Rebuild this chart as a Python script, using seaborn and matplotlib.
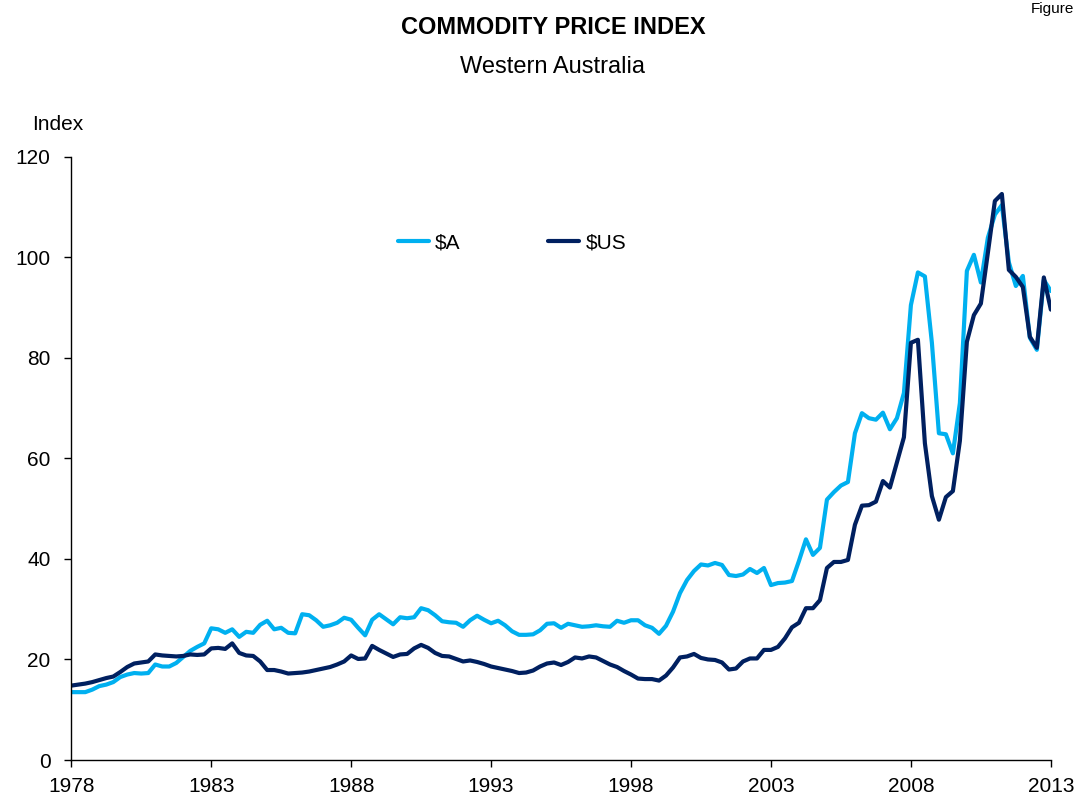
import matplotlib
matplotlib.use("Agg")
import matplotlib.pyplot as plt
import numpy as np
import pandas as pd
import seaborn as sns

# quarterly, 1978 Q1 .. 2013 Q1
start_year = 1978
aud_index = [
    13.5, 13.5, 13.5, 14.0, 14.7, 15.0, 15.5, 16.5, 17.0, 17.3,
    17.2, 17.3, 19.0, 18.6, 18.6, 19.3, 20.5, 21.7, 22.5, 23.2,
    26.2, 26.0, 25.3, 26.0, 24.5, 25.5, 25.3, 26.9, 27.7, 26.0,
    26.3, 25.3, 25.2, 29.0, 28.8, 27.8, 26.5, 26.8, 27.3, 28.3,
    27.9, 26.3, 24.8, 27.9, 29.0, 28.0, 27.0, 28.4, 28.2, 28.4,
    30.2, 29.8, 28.8, 27.6, 27.4, 27.3, 26.5, 27.8, 28.7, 27.9,
    27.2, 27.7, 26.8, 25.6, 24.9, 24.9, 25.0, 25.8, 27.1, 27.2,
    26.3, 27.1, 26.8, 26.5, 26.6, 26.8, 26.6, 26.5, 27.7, 27.3,
    27.8, 27.8, 26.8, 26.3, 25.1, 26.7, 29.5, 33.2, 35.8, 37.6,
    38.9, 38.7, 39.2, 38.8, 36.8, 36.6, 36.9, 38.0, 37.2, 38.2,
    34.8, 35.2, 35.3, 35.6, 39.6, 43.9, 40.8, 42.2, 51.8, 53.3,
    54.6, 55.3, 65.0, 69.0, 68.0, 67.7, 69.1, 65.8, 68.0, 73.0,
    90.5, 97.0, 96.2, 83.0, 65.0, 64.8, 61.0, 71.0, 97.3, 100.5,
    95.0, 103.9, 108.5, 110.4, 99.0, 94.3, 96.3, 84.0, 81.6, 95.5,
    93.3,
]
usd_index = [
    14.8, 15.0, 15.2, 15.5, 15.9, 16.3, 16.6, 17.5, 18.5, 19.2,
    19.4, 19.6, 21.0, 20.8, 20.7, 20.6, 20.7, 21.0, 20.9, 21.0,
    22.2, 22.3, 22.1, 23.2, 21.3, 20.8, 20.7, 19.6, 17.9, 17.9,
    17.6, 17.2, 17.3, 17.4, 17.6, 17.9, 18.2, 18.5, 19.0, 19.6,
    20.8, 20.1, 20.2, 22.7, 21.9, 21.2, 20.5, 21.0, 21.1, 22.2,
    22.9, 22.3, 21.3, 20.7, 20.6, 20.1, 19.6, 19.8, 19.5, 19.1,
    18.6, 18.3, 18.0, 17.7, 17.3, 17.4, 17.8, 18.6, 19.2, 19.4,
    18.9, 19.5, 20.4, 20.2, 20.6, 20.4, 19.7, 19.0, 18.5, 17.7,
    17.0, 16.2, 16.1, 16.1, 15.8, 16.8, 18.4, 20.4, 20.6, 21.1,
    20.3, 20.0, 19.9, 19.4, 18.0, 18.2, 19.6, 20.2, 20.2, 21.9,
    21.9, 22.5, 24.2, 26.4, 27.3, 30.2, 30.2, 31.8, 38.2, 39.4,
    39.4, 39.8, 46.8, 50.6, 50.7, 51.4, 55.5, 54.2, 59.2, 64.2,
    83.0, 83.6, 63.0, 52.5, 47.8, 52.3, 53.5, 63.5, 83.2, 88.5,
    90.8, 100.9, 111.2, 112.6, 97.5, 96.1, 94.1, 84.2, 82.0, 96.0,
    89.6,
]
series_names = ["$A", "$US"]
series_colors = ["#00B0F0", "#002060"]
year_ticks = [1978, 1983, 1988, 1993, 1998, 2003, 2008, 2013]
value_ticks = [0, 20, 40, 60, 80, 100, 120]

quarters = start_year + np.arange(len(aud_index)) / 4
df = pd.concat([
    pd.DataFrame({"date": quarters, "index": aud_index, "series": series_names[0]}),
    pd.DataFrame({"date": quarters, "index": usd_index, "series": series_names[1]}),
])

sns.set_style("ticks")
plt.rcParams["font.family"] = ["Liberation Sans", "DejaVu Sans"]
plt.rcParams["text.color"] = "black"
plt.rcParams["xtick.color"] = "black"
plt.rcParams["ytick.color"] = "black"

fig = plt.figure(figsize=(10.8, 8), dpi=100)
ax = fig.add_axes([0.066, 0.05, 0.907, 0.754])

sns.lineplot(
    data=df, x="date", y="index", hue="series",
    palette=dict(zip(series_names, series_colors)),
    linewidth=3, ax=ax,
)

ax.set_xlim(year_ticks[0], year_ticks[-1])
ax.set_ylim(value_ticks[0], value_ticks[-1])
ax.set_xticks(year_ticks)
ax.set_yticks(value_ticks)
ax.tick_params(axis="both", labelsize=15, length=5, width=1,
               color="black", labelcolor="black")
ax.tick_params(axis="x", pad=7)
ax.tick_params(axis="y", pad=10)
ax.set_xlabel("")
ax.set_ylabel("")
for side in ["top", "right"]:
    ax.spines[side].set_visible(False)
for side in ["left", "bottom"]:
    ax.spines[side].set_color("black")
    ax.spines[side].set_linewidth(1)

ax.legend(
    loc="center", bbox_to_anchor=(0.45, 0.857), ncol=2, frameon=False,
    fontsize=15, handlelength=1.5, handletextpad=0.3, columnspacing=4.2,
)

fig.text(0.512, 0.966, "COMMODITY PRICE INDEX", ha="center", va="center",
         fontsize=17, fontweight="bold")
fig.text(0.512, 0.916, "Western Australia", ha="center", va="center", fontsize=17)
fig.text(0.03, 0.845, "Index", ha="left", va="center", fontsize=15)
fig.text(0.995, 0.998, "Figure", ha="right", va="top", fontsize=11)

fig.savefig("out.png", dpi=100)
